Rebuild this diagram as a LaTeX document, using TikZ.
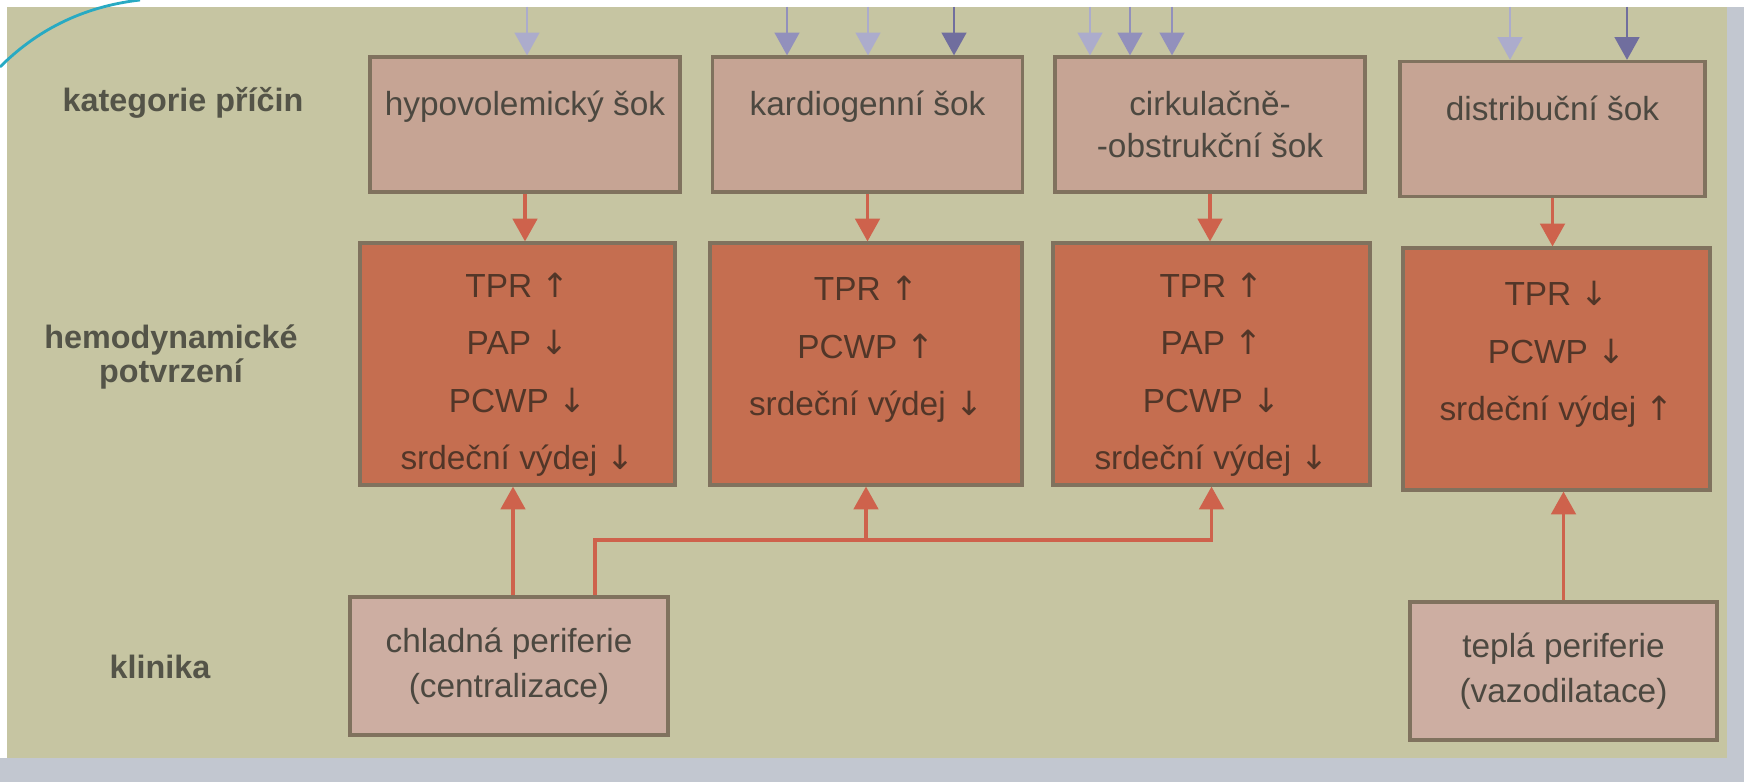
\documentclass[tikz,border=0pt]{standalone}
\usepackage{fontspec}
\setmainfont{Liberation Sans}
\newfontfamily\arrowfont{DejaVu Sans}
\usepackage{tikz}
\usetikzlibrary{arrows.meta,calc}

\definecolor{paper}{RGB}{198,197,162}
\definecolor{scanedge}{RGB}{194,199,208}
\definecolor{causefill}{RGB}{198,164,148}
\definecolor{clinfill}{RGB}{205,174,162}
\definecolor{hemofill}{RGB}{197,110,80}
\definecolor{frame}{RGB}{128,114,94}
\definecolor{linkred}{RGB}{206,98,76}
\definecolor{inkgray}{RGB}{76,72,64}
\definecolor{inkdark}{RGB}{82,54,40}
\definecolor{labelink}{RGB}{84,84,72}
\definecolor{bluelight}{RGB}{172,172,204}
\definecolor{bluemid}{RGB}{146,144,188}
\definecolor{bluedark}{RGB}{112,110,158}
\definecolor{cyanline}{RGB}{40,170,195}

\newcommand{\incr}{{\arrowfont ↑}}
\newcommand{\decr}{{\arrowfont ↓}}
\newcommand{\toppad}{\rule{0pt}{13pt}}

\begin{document}
\begin{tikzpicture}[>={Triangle[width=7pt,length=6.5pt]},
	cause/.style={draw=frame, line width=0.9pt, fill=causefill, minimum width=3.1cm, minimum height=1.35cm, inner sep=0pt, align=center, text=inkgray, font=\fontsize{9.5}{12}\selectfont},
	hemo/.style={draw=frame, line width=0.9pt, fill=hemofill, minimum width=3.15cm, minimum height=2.42cm, inner sep=0pt, align=center, text=inkdark, font=\fontsize{9.5}{12}\selectfont},
	clin/.style={draw=frame, line width=0.9pt, fill=clinfill, minimum width=3.15cm, minimum height=1.38cm, inner sep=0pt, align=center, text=inkgray, font=\fontsize{9.5}{12.8}\selectfont},
	rowlabel/.style={align=center, text=labelink, font=\bfseries\fontsize{9.2}{9.6}\selectfont},
	link/.style={draw=linkred, line width=0.9pt},
	feed/.style={draw=#1, line width=0.8pt, ->}]

	\useasboundingbox (0,0) rectangle (17.44,7.82);
	\fill[white] (0,0) rectangle (17.44,7.82);
	\fill[scanedge] (0,0) rectangle (17.44,0.24);
	\fill[scanedge] (17.27,0) rectangle (17.44,7.75);
	\fill[paper] (0.07,0.24) rectangle (17.27,7.75);
	\draw[cyanline, line width=0.8pt] (0,7.15) .. controls (0.35,7.5) and (0.8,7.75) .. (1.4,7.82);

	\node (lk) at (1.83,6.79) [rowlabel] {kategorie příčin};
	\node (lh) at (1.71,4.25) [rowlabel] {hemodynamické\\potvrzení};
	\node (lc) at (1.60,1.15) [rowlabel] {klinika};

	\node (c1) at (5.25,6.575)  [cause] {hypovolemický šok\\~};
	\node (c2) at (8.675,6.575) [cause] {kardiogenní šok\\~};
	\node (c3) at (12.10,6.575) [cause] {cirkulačně-\\-obstrukční šok};
	\node (c4) at (15.525,6.53) [cause, minimum width=3.05cm] {distribuční šok\\~};

	\node (h1) at (5.175,4.18)  [hemo] {\toppad TPR \incr\\[4.3pt]PAP \decr\\[4.3pt]PCWP \decr\\[4.3pt]srdeční výdej \decr};
	\node (h2) at (8.66,4.18)   [hemo, minimum width=3.12cm] {\toppad TPR \incr\\[4.3pt]PCWP \incr\\[4.3pt]srdeční výdej \decr\\[4.3pt]~};
	\node (h3) at (12.115,4.18) [hemo, minimum width=3.17cm] {\toppad TPR \incr\\[4.3pt]PAP \incr\\[4.3pt]PCWP \decr\\[4.3pt]srdeční výdej \decr};
	\node (h4) at (15.565,4.13) [hemo, minimum width=3.07cm] {\toppad TPR \decr\\[4.3pt]PCWP \decr\\[4.3pt]srdeční výdej \incr\\[4.3pt]~};

	\node (k1) at (5.09,1.16)   [clin, minimum width=3.18cm] {chladná periferie\\(centralizace)};
	\node (k4) at (15.635,1.11) [clin, minimum width=3.07cm] {teplá periferie\\(vazodilatace)};

	% incoming causes
	\coordinate (in1) at (5.27,7.75);
	\coordinate (in2) at (7.87,7.75);
	\coordinate (in3) at (8.68,7.75);
	\coordinate (in4) at (9.54,7.75);
	\coordinate (in5) at (10.90,7.75);
	\coordinate (in6) at (11.30,7.75);
	\coordinate (in7) at (11.72,7.75);
	\coordinate (in8) at (15.10,7.75);
	\coordinate (in9) at (16.27,7.75);
	\draw[feed=bluelight] (in1) -- (in1 |- c1.north);
	\draw[feed=bluemid]   (in2) -- (in2 |- c2.north);
	\draw[feed=bluelight] (in3) -- (in3 |- c2.north);
	\draw[feed=bluedark]  (in4) -- (in4 |- c2.north);
	\draw[feed=bluelight] (in5) -- (in5 |- c3.north);
	\draw[feed=bluemid]   (in6) -- (in6 |- c3.north);
	\draw[feed=bluemid]   (in7) -- (in7 |- c3.north);
	\draw[feed=bluelight] (in8) -- (in8 |- c4.north);
	\draw[feed=bluedark]  (in9) -- (in9 |- c4.north);

	\draw[link, ->] (c1.south) -- (c1.south |- h1.north);
	\draw[link, ->] (c2.south) -- (c2.south |- h2.north);
	\draw[link, ->] (c3.south) -- (c3.south |- h3.north);
	\draw[link, ->] (c4.south) -- (c4.south |- h4.north);

	% clinical signs
	\coordinate (split) at (5.95,2.42);
	\draw[link, ->] ($(k1.north)+(0.04,0)$) -- ($(k1.north |- h1.south)+(0.04,0)$);
	\draw[link, ->] (split |- k1.north) -- (split) -| (h3.south);
	\draw[link, ->] (h2.south |- split) -- (h2.south);
	\draw[link, ->] (k4.north) -- (k4.north |- h4.south);
\end{tikzpicture}
\end{document}
